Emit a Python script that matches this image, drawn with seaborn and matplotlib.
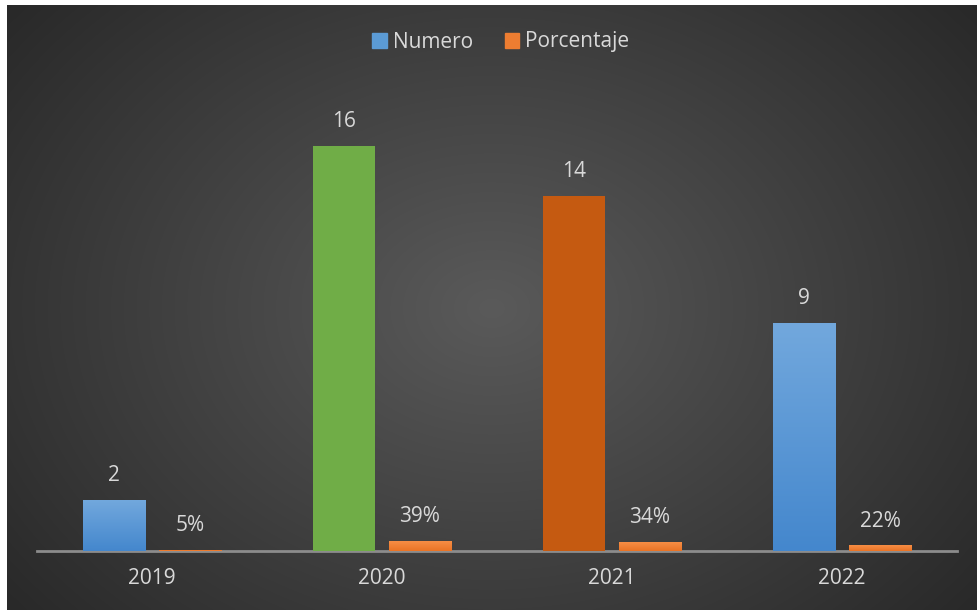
import numpy as np
import pandas as pd
import matplotlib
matplotlib.use("Agg")
import matplotlib.pyplot as plt
from matplotlib.patches import Rectangle
from matplotlib.colors import LinearSegmentedColormap
import seaborn as sns

# Data
years = ["2019", "2020", "2021", "2022"]
numero = [2, 16, 14, 9]
porcentaje = [0.05, 0.39, 0.34, 0.22]
series = ["Numero", "Porcentaje"]

sns.set_theme(style="white")
plt.rcParams["font.family"] = ["Open Sans", "DejaVu Sans"]

W, H = 977, 610
FS = 15
fig = plt.figure(figsize=(W / 100, H / 100), dpi=100, facecolor="white")

# Radial dark background
bg = fig.add_axes([7 / W, 0, 1 - 7 / W, 1 - 5 / H], zorder=0)
bg.set_axis_off()
yy, xx = np.mgrid[0:300, 0:485]
cx, cy = 242, 150
r = np.sqrt(((xx - cx) / 330) ** 2 + ((yy - cy) / 250) ** 2)
r = np.clip(r, 0, 1)
c_in = np.array([0x5a, 0x5a, 0x5a]) / 255
c_out = np.array([0x26, 0x26, 0x26]) / 255
img = c_in[None, None, :] * (1 - r[..., None]) + c_out[None, None, :] * r[..., None]
bg.imshow(img, aspect="auto", interpolation="bilinear", extent=[0, 1, 0, 1])
bg.set_xlim(0, 1)
bg.set_ylim(0, 1)

# Main axes
base_px, top_px = 551, 95
ax = fig.add_axes([37 / W, (H - base_px) / H, (957 - 37) / W, (base_px - top_px) / H], zorder=1)
ax.patch.set_alpha(0)

df = pd.DataFrame({
    "year": years * 2,
    "serie": ["Numero"] * 4 + ["Porcentaje"] * 4,
    "valor": numero + porcentaje,
})

sns.barplot(data=df, x="year", y="valor", hue="serie", ax=ax,
            palette={"Numero": "#5b9bd5", "Porcentaje": "#ed7d31"},
            width=0.66, gap=0.18, legend=False, saturation=1)

ax.set_ylim(0, 18)
ax.set_xlim(-0.5, 3.5)
ax.set_xlabel("")
ax.set_ylabel("")
ax.set_yticks([])
for s in ["top", "right", "left"]:
    ax.spines[s].set_visible(False)
ax.spines["bottom"].set_color("#8c8c8c")
ax.spines["bottom"].set_linewidth(2)
ax.spines["bottom"].set_zorder(0.5)
ax.tick_params(axis="x", length=0, pad=12, labelsize=FS, labelcolor="#d9d9d9")

blue_cmap = LinearSegmentedColormap.from_list("blue", ["#4487cd", "#72a8dd"])
orange_cmap = LinearSegmentedColormap.from_list("orange", ["#ea7325", "#f68e45"])
solid = {1: "#70ad47", 2: "#c55a11"}

bars = list(ax.patches)
num_bars = bars[:4]
pct_bars = bars[4:8]

def gradient_fill(patch, cmap):
    x0, y0 = patch.get_x(), patch.get_y()
    w, h = patch.get_width(), patch.get_height()
    grad = np.linspace(0, 1, 256).reshape(-1, 1)
    im = ax.imshow(grad, cmap=cmap, aspect="auto", origin="lower",
                   extent=[x0, x0 + w, y0, y0 + h], zorder=patch.get_zorder() + 0.1)
    im.set_clip_path(patch)
    ax.set_xlim(-0.5, 3.5)
    ax.set_ylim(0, 18)

for i, p in enumerate(num_bars):
    p.set_edgecolor("none")
    if i in solid:
        p.set_facecolor(solid[i])
    else:
        gradient_fill(p, blue_cmap)
for p in pct_bars:
    p.set_edgecolor("none")
    gradient_fill(p, orange_cmap)

# Value labels
for p, v in zip(num_bars, numero):
    ax.annotate(f"{v}", (p.get_x() + p.get_width() / 2, p.get_height()),
                xytext=(0, 10), textcoords="offset points", ha="center", va="bottom",
                fontsize=FS, color="#d9d9d9")
for p, v in zip(pct_bars, porcentaje):
    ax.annotate(f"{round(v * 100)}%", (p.get_x() + p.get_width() / 2, p.get_height()),
                xytext=(0, 10), textcoords="offset points", ha="center", va="bottom",
                fontsize=FS, color="#d9d9d9")

# Legend
handles = [Rectangle((0, 0), 1, 1, color="#5b9bd5"), Rectangle((0, 0), 1, 1, color="#ed7d31")]
leg = fig.legend(handles, series, loc="center", bbox_to_anchor=(501 / W, 1 - 42 / H),
                 ncol=2, frameon=False, fontsize=FS, labelcolor="#d9d9d9",
                 handlelength=0.7, handleheight=0.7, handletextpad=0.3, columnspacing=1.5)

fig.savefig("out.png", dpi=100, facecolor=fig.get_facecolor())
